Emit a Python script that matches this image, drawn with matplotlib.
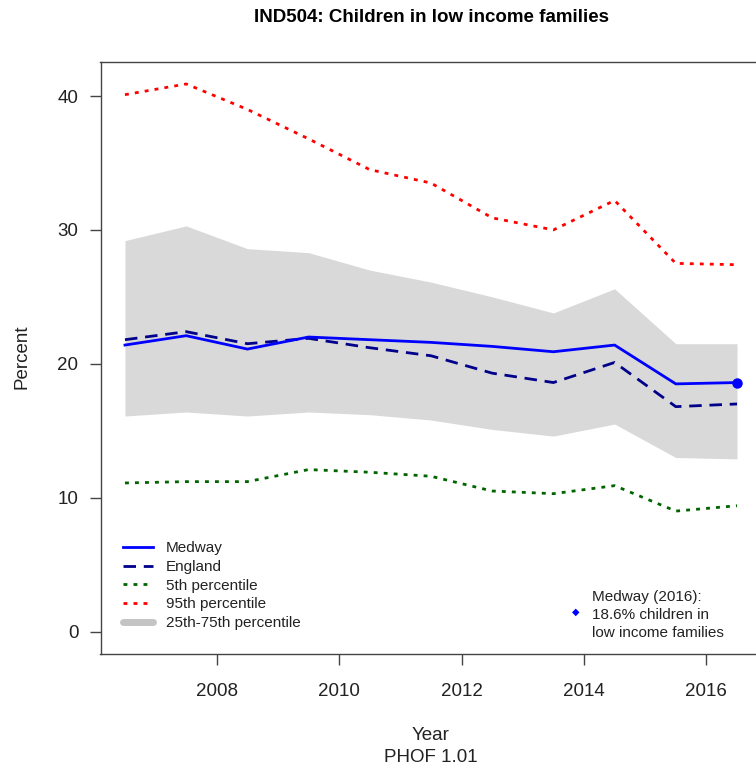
import matplotlib
matplotlib.use("Agg")
import matplotlib.pyplot as plt
from matplotlib.lines import Line2D

plt.rcParams['font.family'] = ['Liberation Sans', 'DejaVu Sans']

# ---- data ----
year_mid = [2006.5, 2007.5, 2008.5, 2009.5, 2010.5, 2011.5, 2012.5, 2013.5, 2014.5, 2015.5, 2016.5]
medway = [21.4, 22.1, 21.1, 22.0, 21.8, 21.6, 21.3, 20.9, 21.4, 18.5, 18.6]
england = [21.8, 22.4, 21.5, 21.9, 21.2, 20.6, 19.3, 18.6, 20.1, 16.8, 17.0]
p5 = [11.1, 11.2, 11.2, 12.1, 11.9, 11.6, 10.5, 10.3, 10.9, 9.0, 9.4]
p95 = [40.1, 40.9, 39.0, 36.8, 34.5, 33.5, 30.9, 30.0, 32.2, 27.5, 27.4]
p25 = [16.1, 16.4, 16.1, 16.4, 16.2, 15.8, 15.1, 14.6, 15.5, 13.0, 12.9]
p75 = [29.2, 30.3, 28.6, 28.3, 27.0, 26.1, 25.0, 23.8, 25.6, 21.5, 21.5]
x_ticks = [2008, 2010, 2012, 2014, 2016]
y_ticks = [0, 10, 20, 30, 40]
legend_labels = ["Medway", "England", "5th percentile", "95th percentile", "25th-75th percentile"]
title = "IND504: Children in low income families"
latest_value = 18.6
latest_year = 2016

W, H = 756, 768
fig = plt.figure(figsize=(W / 100, H / 100), dpi=100)
ax = fig.add_axes([100.5 / W, 1 - 653.5 / H, 661 / W, 591.5 / H])

ax.fill_between(year_mid, p25, p75, color='#D9D9D9', linewidth=0, zorder=1)
l5, = ax.plot(year_mid, p5, color='#006400', lw=2.0, linestyle=(0, (1.4, 2.2)), zorder=2)
l95, = ax.plot(year_mid, p95, color='#FF0000', lw=2.0, linestyle=(0, (1.4, 2.2)), zorder=2)
le, = ax.plot(year_mid, england, color='#00008B', lw=2.0, linestyle=(0, (4.5, 2.8)), zorder=3)
lm, = ax.plot(year_mid, medway, color='#0000FF', lw=2.0, zorder=4)
ax.plot([year_mid[-1]], [medway[-1]], marker='o', color='#0000FF', markersize=6.5, zorder=5)

ax.set_xlim(2006.1, 2016.9)
ax.set_ylim(-1.636, 42.54)
ax.set_xticks(x_ticks)
ax.set_yticks(y_ticks)
ax.tick_params(axis='both', length=8, width=1, color='#444444', labelcolor='#222222', labelsize=13.5)
ax.tick_params(axis='x', pad=13)
ax.tick_params(axis='y', pad=8)
for s in ax.spines.values():
    s.set_color('#444444')
    s.set_linewidth(1)

band_handle = Line2D([0], [0], color='#C4C4C4', lw=5, solid_capstyle='round')
leg = ax.legend([lm, le, l5, l95, band_handle], legend_labels,
                loc='upper left', bbox_to_anchor=(115 / W, 1 - 533.5 / H),
                bbox_transform=fig.transFigure, frameon=False, fontsize=11,
                handlelength=2.0, handletextpad=0.85, labelspacing=0.31, borderpad=0)
for t in leg.get_texts():
    t.set_color('#222222')

# annotation
fig.text(575.7 / W, 1 - 611.7 / H, u"\u25C6", color='#0000FF', fontsize=7,
         ha='center', va='center', family=['DejaVu Sans'])
fig.text(591.5 / W, 1 - 615.2 / H,
         "Medway (%d):\n%.1f%% children in\nlow income families" % (latest_year, latest_value),
         fontsize=11, color='#222222', ha='left', va='center', linespacing=1.38)

fig.text(431 / W, 1 - 17 / H, title, fontsize=13.5, fontweight='bold', ha='center', va='center')
fig.text(431 / W, 1 - 735.7 / H, "Year", fontsize=13.5, color='#222222', ha='center', va='center')
fig.text(431 / W, 1 - 758 / H, "PHOF 1.01", fontsize=13.5, color='#222222', ha='center', va='center')
fig.text(22 / W, 1 - 357 / H, "Percent", fontsize=13.5, color='#222222', ha='center', va='center', rotation=90)

fig.savefig("out.png", dpi=100)
